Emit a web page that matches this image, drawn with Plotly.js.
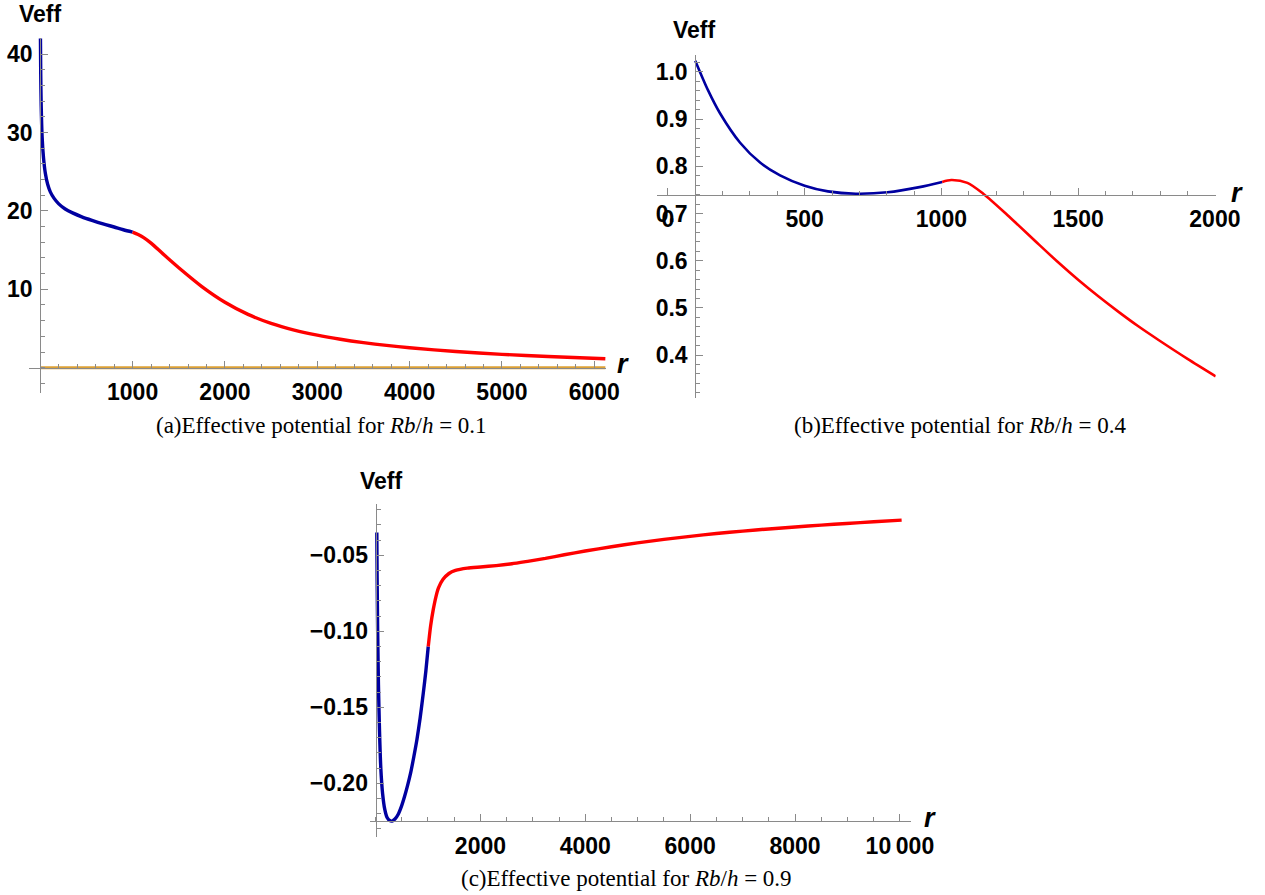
<!DOCTYPE html>
<html>
<head>
<meta charset="utf-8">
<script src="https://cdn.plot.ly/plotly-3.0.1.min.js"></script>
<style>
  html, body { margin: 0; padding: 0; background: #ffffff; }
  #chart { width: 1265px; height: 895px; }
</style>
</head>
<body>
<div id="chart"></div>
<script>
// ---------------- DATA ----------------
// Panel (a): Rb/h = 0.1
const blueA_r = [2, 5, 10, 20, 35, 55, 80, 110, 150, 200, 270, 350, 450, 560, 680, 800, 900, 1000];
const blueA_V = [42.0, 37.5, 33.5, 29.5, 26.8, 24.8, 23.4, 22.4, 21.6, 20.9, 20.25, 19.75, 19.25, 18.8, 18.35, 17.95, 17.6, 17.3];
const redA_r = [1000, 1060, 1120, 1200, 1340, 1500, 1750, 2000, 2250, 2500, 2750, 3000, 3250, 3500, 3750, 4000, 4500, 5000, 5500, 6120];
const redA_V = [17.3, 17.0, 16.6, 15.9, 14.4, 12.75, 10.35, 8.35, 6.8, 5.65, 4.8, 4.15, 3.63, 3.2, 2.84, 2.54, 2.06, 1.70, 1.42, 1.14];
const zeroA_r = [0, 6120];
const zeroA_V = [0, 0];

// Panel (b): Rb/h = 0.4
const blueB_r = [100, 147, 191, 264, 337, 410, 500, 585, 687, 803, 920, 1003];
const blueB_V = [1.024, 0.961, 0.912, 0.850, 0.808, 0.781, 0.759, 0.747, 0.742, 0.745, 0.756, 0.767];
const redB_r = [1003, 1036, 1095, 1153, 1241, 1357, 1430, 1501, 1575, 1649, 1720, 1794, 1900, 2003];
const redB_V = [0.767, 0.771, 0.765, 0.742, 0.697, 0.634, 0.595, 0.559, 0.524, 0.491, 0.461, 0.432, 0.392, 0.355];

// Panel (c): Rb/h = 0.9
const blueC_r = [24, 30, 40, 55, 75, 100, 135, 175, 220, 270, 316, 370, 430, 490, 550, 610, 670, 730, 790, 850, 909, 960, 1005];
const blueC_V = [-0.0351, -0.065, -0.100, -0.135, -0.165, -0.190, -0.207, -0.217, -0.2225, -0.2245, -0.2248, -0.2235, -0.2205, -0.2155, -0.209, -0.2015, -0.193, -0.1825, -0.171, -0.157, -0.141, -0.126, -0.110];
const redC_r = [1005, 1050, 1100, 1150, 1200, 1284, 1400, 1524, 1750, 2002, 2300, 2600, 2900, 3239, 3600, 3997, 4500, 4994, 5500, 5999, 6500, 7004, 7500, 8002, 8500, 8983, 9500, 10033];
const redC_V = [-0.110, -0.0965, -0.0858, -0.0775, -0.0715, -0.0660, -0.0620, -0.0600, -0.0585, -0.0577, -0.0568, -0.0556, -0.0540, -0.0521, -0.0497, -0.0472, -0.0444, -0.0419, -0.0396, -0.0376, -0.0357, -0.0341, -0.0327, -0.0314, -0.0302, -0.0291, -0.0280, -0.0269];

// Tick labels
const xTicksA = [1000, 2000, 3000, 4000, 5000, 6000];
const xTextA = ['1000', '2000', '3000', '4000', '5000', '6000'];
const yTicksA = [10, 20, 30, 40];
const yTextA = ['10', '20', '30', '40'];
const xTicksB = [0, 500, 1000, 1500, 2000];
const xTextB = ['0', '500', '1000', '1500', '2000'];
const yTicksB = [0.4, 0.5, 0.6, 0.7, 0.8, 0.9, 1.0];
const yTextB = ['0.4', '0.5', '0.6', '0.7', '0.8', '0.9', '1.0'];
const xTicksC = [2000, 4000, 6000, 8000, 10000];
const xTextC = ['2000', '4000', '6000', '8000', '10\u2009000'];
const yTicksC = [-0.20, -0.15, -0.10, -0.05];
const yTextC = ['\u22120.20', '\u22120.15', '\u22120.10', '\u22120.05'];

const captions = [
  '(a)Effective potential for <i>Rb</i>/<i>h</i> = 0.1',
  '(b)Effective potential for <i>Rb</i>/<i>h</i> = 0.4',
  '(c)Effective potential for <i>Rb</i>/<i>h</i> = 0.9'
];
const yLabel = 'Veff';
const xLabel = 'r';

// ---------------- LAYOUT HELPERS ----------------
const W = 1265, H = 895;
const px = v => v / W;
const py = v => 1 - v / H;
function pos(dom, rng, v) { return dom[0] + (v - rng[0]) / (rng[1] - rng[0]) * (dom[1] - dom[0]); }

const BLUE = '#0000a0', RED = '#ff0000', ORANGE = '#dca135';
const AX = '#8a8a8a';
const tickFont = { family: 'Liberation Sans, Arial, sans-serif', size: 23, color: '#000', weight: 'bold' };

// panel geometry (pixels)
const A = { xd: [px(29), px(606)], yd: [py(392.7), py(37.7)], xr: [-122, 6127], yr: [-3.19, 42.1], ox: 0, oy: 0 };
const B = { xd: [px(656.7), px(1215.7)], yd: [py(398), py(55)], xr: [-41, 2003], yr: [0.309, 1.036], ox: 100, oy: 0.740 };
const C = { xd: [px(370), px(910.7)], yd: [py(836.7), py(504)], xr: [-106, 10206], yr: [-0.2351, -0.0163], ox: 0, oy: -0.2246 };

function xax(P, tv, tt, minorD, minor0) {
  return {
    domain: P.xd, range: P.xr, anchor: 'free', position: pos(P.yd, P.yr, P.oy),
    showline: true, linecolor: AX, linewidth: 1.2, showgrid: false, zeroline: false,
    ticks: 'inside', ticklen: 7, tickwidth: 1, tickcolor: AX,
    tickmode: 'array', tickvals: tv, ticktext: tt, tickfont: tickFont, ticklabelstandoff: 4,
    minor: { tickmode: 'linear', tick0: minor0, dtick: minorD, ticks: 'inside', ticklen: 4, tickwidth: 1, tickcolor: AX, showgrid: false },
    fixedrange: true
  };
}
function yax(P, tv, tt, minorD, minor0) {
  return {
    domain: P.yd, range: P.yr, anchor: 'free', position: pos(P.xd, P.xr, P.ox),
    showline: true, linecolor: AX, linewidth: 1.2, showgrid: false, zeroline: false,
    ticks: 'inside', ticklen: 7, tickwidth: 1, tickcolor: AX,
    tickmode: 'array', tickvals: tv, ticktext: tt, tickfont: tickFont, ticklabelstandoff: 3,
    minor: { tickmode: 'linear', tick0: minor0, dtick: minorD, ticks: 'inside', ticklen: 4, tickwidth: 1, tickcolor: AX, showgrid: false },
    fixedrange: true
  };
}

const traces = [
  { x: zeroA_r, y: zeroA_V, xaxis: 'x', yaxis: 'y', mode: 'lines', line: { color: ORANGE, width: 3 } },
  { x: blueA_r, y: blueA_V, xaxis: 'x', yaxis: 'y', mode: 'lines', line: { color: BLUE, width: 3.4, shape: 'spline', smoothing: 0.8 } },
  { x: redA_r, y: redA_V, xaxis: 'x', yaxis: 'y', mode: 'lines', line: { color: RED, width: 3.4, shape: 'spline', smoothing: 0.8 } },
  { x: blueB_r, y: blueB_V, xaxis: 'x2', yaxis: 'y2', mode: 'lines', line: { color: BLUE, width: 2.6, shape: 'spline', smoothing: 0.8 } },
  { x: redB_r, y: redB_V, xaxis: 'x2', yaxis: 'y2', mode: 'lines', line: { color: RED, width: 2.6, shape: 'spline', smoothing: 0.8 } },
  { x: blueC_r, y: blueC_V, xaxis: 'x3', yaxis: 'y3', mode: 'lines', line: { color: BLUE, width: 3.4, shape: 'spline', smoothing: 0.6 } },
  { x: redC_r, y: redC_V, xaxis: 'x3', yaxis: 'y3', mode: 'lines', line: { color: RED, width: 3.4, shape: 'spline', smoothing: 0.6 } }
];

const labelFont = { family: 'Liberation Sans, Arial, sans-serif', size: 23, color: '#000', weight: 'bold' };
const rFont = { family: 'Liberation Sans, Arial, sans-serif', size: 27, color: '#000', weight: 'bold', style: 'italic' };
const capFont = { family: 'Liberation Serif, Times New Roman, serif', size: 23, color: '#000' };

function ann(text, x, y, font) {
  return { text: text, x: px(x), y: py(y), xref: 'paper', yref: 'paper', showarrow: false, xanchor: 'center', yanchor: 'middle', font: font };
}

const annotations = [
  ann(yLabel, 40, 14, labelFont),
  ann(yLabel, 694, 30, labelFont),
  ann(yLabel, 381, 481, labelFont),
  ann(xLabel, 623, 364, rFont),
  ann(xLabel, 1237, 193, rFont),
  ann(xLabel, 930, 818, rFont),
  ann(captions[0], 322, 425, capFont),
  ann(captions[1], 960, 425, capFont),
  ann(captions[2], 626, 878, capFont)
];

const layout = {
  width: W, height: H,
  margin: { l: 0, r: 0, t: 0, b: 0 },
  paper_bgcolor: '#ffffff', plot_bgcolor: 'rgba(0,0,0,0)',
  showlegend: false,
  xaxis: xax(A, xTicksA, xTextA, 200, 0),
  yaxis: yax(A, yTicksA, yTextA, 2, 0),
  xaxis2: xax(B, xTicksB, xTextB, 100, 0),
  yaxis2: yax(B, yTicksB, yTextB, 0.02, 0),
  xaxis3: xax(C, xTicksC, xTextC, 500, 0),
  yaxis3: yax(C, yTicksC, yTextC, 0.01, 0),
  annotations: annotations
};

Plotly.newPlot('chart', traces, layout, { staticPlot: true, displayModeBar: false });
</script>
</body>
</html>
